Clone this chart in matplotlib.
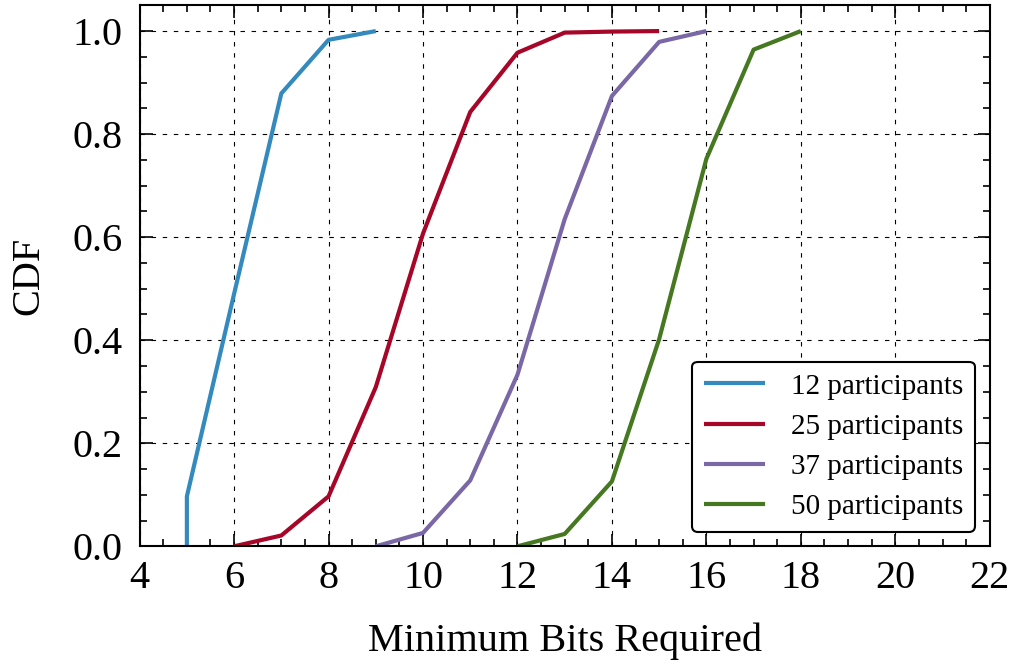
import matplotlib
matplotlib.use("Agg")
import matplotlib.pyplot as plt
from matplotlib.ticker import MultipleLocator

plt.rcParams['font.family'] = ['Liberation Serif', 'DejaVu Serif']
plt.rcParams['mathtext.fontset'] = 'stix'

x12 = [5, 5, 6, 7, 8, 9]
y12 = [0.0, 0.097, 0.49, 0.879, 0.983, 1.0]
x25 = [6, 7, 8, 9, 10, 11, 12, 13, 14, 15]
y25 = [0.0, 0.021, 0.097, 0.309, 0.607, 0.843, 0.958, 0.997, 0.999, 1.0]
x37 = [9, 10, 11, 12, 13, 14, 15, 16]
y37 = [0.0, 0.026, 0.128, 0.333, 0.635, 0.874, 0.979, 1.0]
x50 = [12, 13, 14, 15, 16, 17, 18]
y50 = [0.0, 0.024, 0.126, 0.402, 0.752, 0.964, 1.0]

labels = ['12 participants', '25 participants', '37 participants', '50 participants']
colors = ['#348ABD', '#A60628', '#7A68A6', '#467821']

fig = plt.figure(figsize=(10.12, 6.63), dpi=100)
ax = fig.add_axes([0.138, 0.176, 0.840, 0.816])

for (xs, ys), lab, c in zip([(x12, y12), (x25, y25), (x37, y37), (x50, y50)], labels, colors):
    ax.plot(xs, ys, color=c, lw=3, label=lab, solid_capstyle='butt')

ax.set_xlim(4, 22)
ax.set_ylim(0, 1.05)
ax.xaxis.set_major_locator(MultipleLocator(2))
ax.xaxis.set_minor_locator(MultipleLocator(0.5))
ax.yaxis.set_minor_locator(MultipleLocator(0.05))
ax.set_yticks([0, 0.2, 0.4, 0.6, 0.8, 1.0])
ax.set_yticklabels(['0.0', '0.2', '0.4', '0.6', '0.8', '1.0'])
ax.tick_params(which='both', direction='in', top=True, right=True, labelsize=29, width=1.2)
ax.tick_params(axis='x', pad=10)
ax.tick_params(axis='y', pad=12)
ax.tick_params(which='major', length=9)
ax.tick_params(which='minor', length=5)
ax.grid(True, which='major', color='black', linestyle=(0, (4, 6)), linewidth=0.8)
for s in ax.spines.values():
    s.set_linewidth(1.5)

ax.set_xlabel('Minimum Bits Required', fontsize=29, labelpad=18)
ax.set_ylabel('CDF', fontsize=29, labelpad=18)

leg = ax.legend(loc='lower right', fontsize=21, frameon=True, fancybox=True,
                edgecolor='black', framealpha=1, handlelength=2.1, borderpad=0.4,
                labelspacing=0.47, handletextpad=0.9, borderaxespad=0.5,
                bbox_to_anchor=(1.0, 0.0))
leg.get_frame().set_linewidth(1.5)

fig.savefig('out.png', dpi=100)
